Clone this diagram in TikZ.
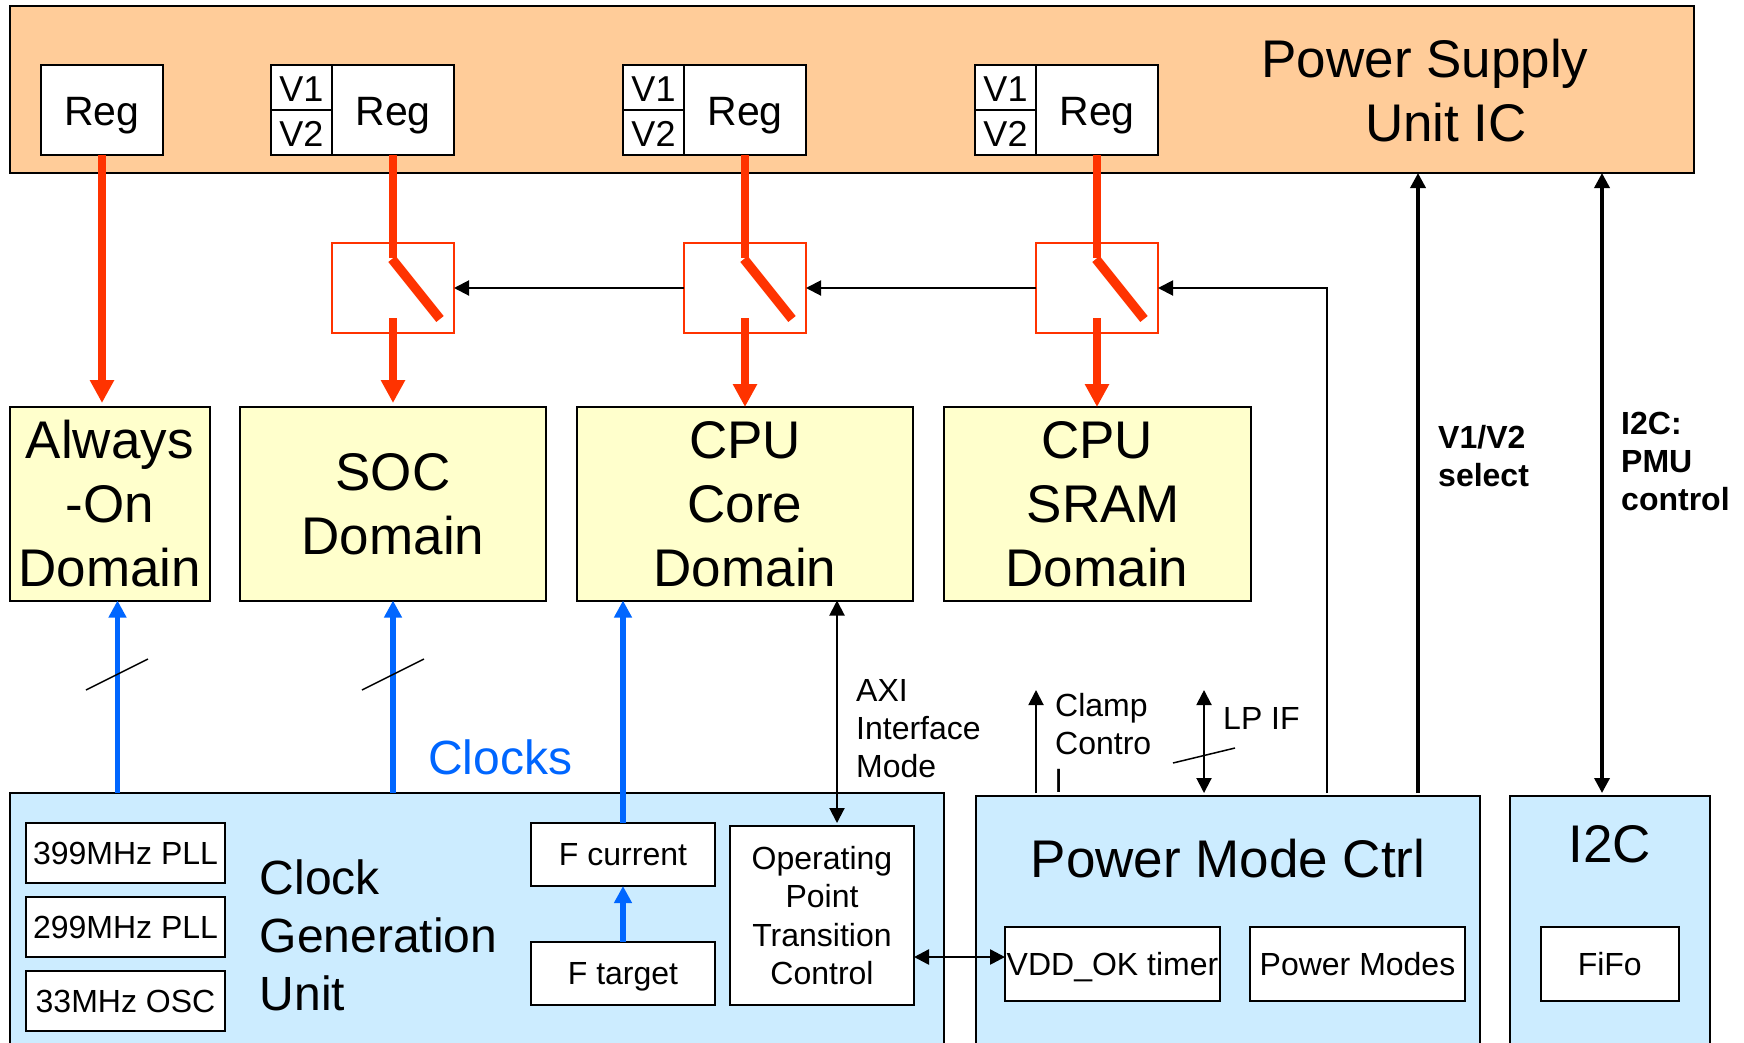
\documentclass[tikz,border=0pt]{standalone}
\usepackage{fontspec}
\setmainfont{Liberation Sans}
\usetikzlibrary{arrows.meta, positioning}
\definecolor{psucolor}{RGB}{255, 204, 153}
\definecolor{domcolor}{RGB}{255, 255, 204}
\definecolor{unitcolor}{RGB}{204, 236, 255}
\definecolor{railcolor}{RGB}{255, 51, 0}
\definecolor{clkcolor}{RGB}{0, 102, 255}
\tikzset{
  block/.style={rectangle, draw=black, line width=2pt, inner sep=0pt, outer sep=0pt, align=center, text depth=0pt},
  unitblock/.style={block, anchor=north west, fill=unitcolor},
  domblock/.style={block, fill=domcolor, minimum height=193.5pt, font=\fontsize{53}{64}\selectfont},
  regbox/.style={block, fill=white, minimum width=122pt, minimum height=90pt, text height=31.5pt, font=\fontsize{41}{49}\selectfont},
  vbox/.style={block, fill=white, minimum width=61pt, minimum height=45pt, text height=28pt, font=\fontsize{36}{43}\selectfont},
  swbox/.style={rectangle, draw=railcolor, line width=1.5pt, fill=white, inner sep=0pt, outer sep=0pt, minimum width=122pt, minimum height=90pt},
  smallbox/.style={block, fill=white, font=\fontsize{32}{38.4}\selectfont},
  pllbox/.style={smallbox, minimum width=199pt, minimum height=60pt},
  fbox/.style={smallbox, minimum width=184pt, minimum height=63pt},
  modebox/.style={smallbox, minimum width=215pt, minimum height=74pt},
  biglabel/.style={inner sep=0pt, font=\fontsize{53}{64}\selectfont, align=center},
  lbl/.style={inner sep=0pt, anchor=west, align=left, font=\fontsize{32}{38}\selectfont},
  boldlbl/.style={lbl, font=\fontsize{32}{38}\selectfont\bfseries},
  railarr/.style={-{Triangle[length=23pt, width=23pt]}, line width=7.5pt, color=railcolor},
  railline/.style={line width=7.5pt, color=railcolor},
  armline/.style={line width=9.5pt, color=railcolor},
  clkarr/.style={-{Triangle[length=17pt, width=17pt]}, line width=5.5pt, color=clkcolor},
  arr/.style={-{Triangle[length=15pt, width=15pt]}, line width=2pt},
  bothways/.style={{Triangle[length=15pt, width=15pt]}-{Triangle[length=15pt, width=15pt]}, line width=2pt},
  thickarr/.style={-{Triangle[length=15pt, width=15pt]}, line width=3.5pt},
  thickboth/.style={{Triangle[length=15pt, width=15pt]}-{Triangle[length=15pt, width=15pt]}, line width=3.5pt},
  tickline/.style={line width=1.5pt}
}

\begin{document}
\begin{tikzpicture}[x=1pt, y=-1pt]
  \path[use as bounding box, clip] (0,0) rectangle (1744,1042);

  % supply unit
  \node[block, anchor=north west, fill=psucolor, minimum width=1684pt, minimum height=167pt] (psu) at (10,6) {};
  \node[biglabel] (psutext) at (1425,91) {Power Supply\\\hspace*{42pt}Unit IC};

  \node[regbox, anchor=north west] (regA) at (41,65) {Reg};
  \node[regbox, anchor=north west] (regB) at (332,65) {Reg};
  \node[regbox, anchor=north west] (regC) at (684,65) {Reg};
  \node[regbox, anchor=north west] (regD) at (1036,65) {Reg};

  \node[vbox, below left=0pt and 0pt of regB.north west] (vB1) {V1};
  \node[vbox, below=0pt of vB1] (vB2) {V2};
  \node[vbox, below left=0pt and 0pt of regC.north west] (vC1) {V1};
  \node[vbox, below=0pt of vC1] (vC2) {V2};
  \node[vbox, below left=0pt and 0pt of regD.north west] (vD1) {V1};
  \node[vbox, below=0pt of vD1] (vD2) {V2};

  % switches
  \node[swbox, below=88pt of regB] (swB) {};
  \node[swbox, below=88pt of regC] (swC) {};
  \node[swbox, below=88pt of regD] (swD) {};

  % domains
  \node[domblock, anchor=north west, minimum width=199.5pt] (domA) at (10,407) {Always\\-On\\Domain};
  \node[domblock, below=74pt of swB, minimum width=306pt] (domB) {SOC\\Domain};
  \node[domblock, below=74pt of swC, minimum width=336pt] (domC) {CPU\\Core\\Domain};
  \node[domblock, below=74pt of swD, minimum width=307pt] (domD) {CPU\\\hspace*{13pt}SRAM\\Domain};

  % clock unit
  \node[unitblock, minimum width=934pt, minimum height=270pt] (cgu) at (10,793) {};
  \node[pllbox, anchor=north west] (pllA) at (26,823) {399MHz PLL};
  \node[pllbox, below=14pt of pllA] (pllB) {299MHz PLL};
  \node[pllbox, below=14pt of pllB] (pllC) {33MHz OSC};
  \node[inner sep=0pt, anchor=west, align=left, font=\fontsize{48}{58}\selectfont] (cgutext) at (259.5,935) {Clock\\Generation\\Unit};
  \node[fbox, anchor=north west] (fcur) at (531,823) {F current};
  \node[fbox, below=56pt of fcur] (ftgt) {F target};
  \node[smallbox, anchor=north west, minimum width=184pt, minimum height=179pt] (opt) at (730,826) {Operating\\Point\\Transition\\Control};

  % power mode and i2c units
  \node[unitblock, minimum width=504.5pt, minimum height=270pt] (pmc) at (975.5,796) {};
  \node[biglabel] (pmctext) at (1228,859) {Power Mode Ctrl};
  \node[modebox, anchor=north west] (vdd) at (1005,927) {VDD\_OK timer};
  \node[modebox, right=30pt of vdd] (modes) {Power Modes};
  \node[unitblock, minimum width=199.5pt, minimum height=270pt] (i2c) at (1510,796) {};
  \node[biglabel] (i2ctext) at (1610,844) {I2C};
  \node[modebox, anchor=north west, minimum width=138.5pt] (fifo) at (1540.5,927) {FiFo};

  % free ends of the wires above the units
  \coordinate (clampfoot) at (1036,793);
  \coordinate (lpfoot)    at (1204,793);
  \coordinate (ctrlfoot)  at (1327,793);
  \coordinate (selfoot)   at (1418,793);
  \coordinate (i2cfoot)   at (1602,793);
  \coordinate (clamptop)  at (1036,690);
  \coordinate (lptop)     at (1204,690);
  \coordinate (axifoot)   at (837,823);
  \coordinate (clkA)      at (117.5,793);
  \coordinate (vddport)   at ([yshift=7pt]vdd.west);

  % supply rails
  \draw[railarr, shorten >=4pt] (regA.south) -- (regA.south |- domA.north);
  \draw[railline] (regB.south) -- ([shift={(0,-30)}]swB.center);
  \draw[railline] (regC.south) -- ([shift={(0,-30)}]swC.center);
  \draw[railline] (regD.south) -- ([shift={(0,-30)}]swD.center);
  \draw[armline] ([shift={(-1,-29)}]swB.center) -- ([shift={(47,31)}]swB.center);
  \draw[armline] ([shift={(-1,-29)}]swC.center) -- ([shift={(47,31)}]swC.center);
  \draw[armline] ([shift={(-1,-29)}]swD.center) -- ([shift={(47,31)}]swD.center);
  \draw[railarr, shorten >=4pt] ([shift={(0,30)}]swB.center) -- (domB.north);
  \draw[railarr] ([shift={(0,30)}]swC.center) -- (domC.north);
  \draw[railarr] ([shift={(0,30)}]swD.center) -- (domD.north);

  % switch control
  \draw[arr] (swC.west) -- (swB.east);
  \draw[arr] (swD.west) -- (swC.east);
  \draw[arr] (ctrlfoot) |- (swD.east);

  % clocks
  \draw[clkarr] (clkA) -- (clkA |- domA.south);
  \draw[clkarr] (domB.south |- cgu.north) -- (domB.south);
  \draw[clkarr] (fcur.north) -- (fcur.north |- domC.south);
  \draw[clkarr] (ftgt.north) -- (fcur.south);
  \draw[tickline] (86,690) -- (148,659);
  \draw[tickline] (362,690) -- (424,659);
  \node[inner sep=0pt, anchor=base west, text=clkcolor, font=\fontsize{48}{58}\selectfont] (clocks) at (428,774) {Clocks};

  % buses
  \draw[bothways] (axifoot) -- (axifoot |- domC.south);
  \draw[bothways, line width=2.5pt] (opt.east |- vddport) -- (vddport);
  \draw[arr] (clampfoot) -- (clamptop);
  \draw[bothways] (lpfoot) -- (lptop);
  \draw[tickline] (1173,763) -- (1235,748);
  \draw[thickarr] (selfoot) -- (selfoot |- psu.south);
  \draw[thickboth] (i2cfoot) -- (i2cfoot |- psu.south);

  % labels
  \node[lbl] (axitext) at (856,729) {AXI\\Interface\\Mode};
  \node[lbl] (clamptext) at (1055,743) {Clamp\\Contro\\l};
  \node[lbl] (lptext) at (1223,718) {LP IF};
  \node[boldlbl] (seltext) at (1438,456) {V1/V2\\select};
  \node[boldlbl] (pmutext) at (1621,461) {I2C:\\PMU\\control};

\end{tikzpicture}
\end{document}
